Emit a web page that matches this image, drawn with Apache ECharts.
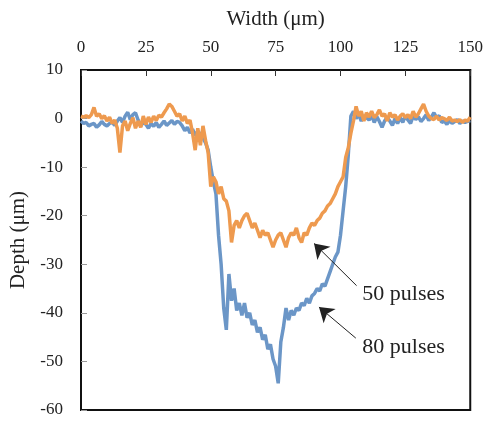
<!DOCTYPE html>
<html>
<head>
<meta charset="utf-8">
<script src="https://cdn.jsdelivr.net/npm/echarts@6/dist/echarts.min.js"></script>
<style>html,body{margin:0;padding:0;background:#fff;}#c{width:486px;height:423px;}</style>
</head>
<body>
<div id="c"></div>
<script>
// Width positions (µm), 1 µm step
var widths = [];
for (var i = 0; i <= 150; i++) widths.push(i);

// 80 pulses depth (µm)
var depth80 = [
 -0.5,-1.0,-0.8,-1.5,-1.2,-1.0,-1.8,-1.3,-0.6,-1.2,
 -1.5,-1.0,-0.8,-1.4,-0.5,0.2,-0.8,0.5,1.3,-0.2,
 0.8,1.2,-0.3,-1.5,-0.8,-1.2,-2.0,-1.0,-1.6,-0.8,
 -1.8,-1.2,-0.5,-1.4,-0.9,-0.4,-1.2,-0.6,-0.8,-1.5,
 -2.5,-1.8,-3.0,-2.2,-3.5,-2.6,-3.2,-4.0,-5.0,-6.5,
 -10.0,-13.0,-15.5,-24.0,-30.0,-39.0,-43.5,-32.0,-37.5,-35.0,
 -39.5,-38.0,-40.5,-38.0,-41.0,-40.0,-42.5,-41.5,-44.0,-43.0,
 -45.5,-44.5,-47.5,-46.5,-49.5,-51.0,-54.5,-46.0,-43.0,-39.0,
 -41.5,-39.5,-40.5,-39.0,-39.5,-38.0,-38.5,-37.0,-38.0,-36.5,
 -36.0,-35.0,-35.5,-34.0,-34.5,-33.0,-31.5,-30.0,-28.5,-27.5,
 -24.0,-19.0,-14.0,-7.5,0.5,1.5,0.0,0.8,-0.5,0.5,
 0.2,-0.3,0.6,-0.8,0.4,-0.6,-1.8,-0.5,0.3,-0.5,
 -1.4,0.0,-1.0,0.2,-0.8,0.6,-0.3,-1.0,0.5,-0.2,
 0.4,-0.6,0.0,0.8,-0.4,0.3,1.2,0.2,0.6,-0.8,
 -0.5,-1.2,-0.4,-1.0,-0.6,-0.2,-1.0,-0.5,-0.8,-0.6,
 -0.4
];

// 50 pulses depth (µm)
var depth50 = [
 0.5,0.3,0.6,0.2,0.8,2.3,0.5,1.0,0.0,0.6,
 -0.5,0.3,-1.0,-0.3,-2.0,-7.0,-1.5,-0.5,-2.5,-1.0,
 0.2,-2.0,-0.5,-1.8,0.5,-1.2,0.3,-0.8,0.5,-0.4,
 0.7,0.3,1.2,2.0,3.0,2.5,1.5,0.5,1.0,-0.5,
 0.5,-1.0,-0.3,-3.0,-6.5,-2.0,-5.5,-1.5,-4.5,-7.0,
 -14.0,-12.0,-13.0,-15.5,-14.0,-16.5,-17.0,-19.0,-25.5,-22.0,
 -21.0,-22.5,-21.0,-20.0,-19.5,-21.0,-22.5,-21.5,-23.0,-24.5,
 -23.0,-24.0,-23.5,-25.0,-26.5,-25.0,-24.0,-23.5,-25.0,-26.5,
 -24.5,-23.5,-24.0,-22.5,-24.5,-25.5,-23.5,-24.0,-22.5,-21.5,
 -22.0,-21.0,-20.5,-19.5,-19.0,-18.0,-17.5,-16.5,-15.5,-14.0,
 -13.0,-12.0,-8.0,-6.0,-3.0,-0.5,2.5,0.5,1.5,-0.5,
 1.2,0.3,1.5,0.2,0.8,1.8,0.5,1.0,-0.5,1.2,
 0.3,0.8,-0.3,0.5,1.0,0.2,0.8,0.0,1.5,0.3,
 1.0,2.0,3.0,1.5,0.5,0.0,-0.2,0.5,-0.3,0.2,
 0.0,-0.4,0.3,-0.5,-0.3,-0.6,-0.2,-0.8,-0.3,-0.5,
 0.3
];

var xTicks = [0, 25, 50, 75, 100, 125, 150];
var yTicks = [10, 0, -10, -20, -30, -40, -50, -60];

// annotation anchors in data units [tail, tip] and labels
var arrow50 = [[106.2, -34.4], [89.8, -25.7]];
var arrow80 = [[105.9, -45.2], [91.7, -38.8]];
var label50 = { text: '50 pulses', at: [124.3, -36.2] };
var label80 = { text: '80 pulses', at: [124.3, -47.0] };

function pairs(ys) { return widths.map(function (x, i) { return [x, ys[i]]; }); }

var serif = '"Liberation Serif", "Times New Roman", serif';
var chart = echarts.init(document.getElementById('c'), null, { renderer: 'canvas' });
chart.setOption({
  animation: false,
  backgroundColor: '#fff',
  grid: { left: 81, right: 14, top: 70, bottom: 13, show: true, borderColor: '#111', borderWidth: 2, backgroundColor: 'transparent' },
  xAxis: {
    type: 'value', position: 'top', min: xTicks[0], max: xTicks[xTicks.length - 1], interval: 25,
    name: 'Width (μm)', nameLocation: 'middle', nameGap: 40,
    nameTextStyle: { fontFamily: serif, fontSize: 21, color: '#222' },
    axisLine: { show: true, onZero: false, lineStyle: { color: '#111', width: 2 } },
    axisTick: { show: true, inside: true, length: 6, lineStyle: { color: '#333', width: 1 } },
    axisLabel: { fontFamily: serif, fontSize: 17, color: '#222', margin: 14 },
    splitLine: { show: false }
  },
  yAxis: {
    type: 'value', min: yTicks[yTicks.length - 1], max: yTicks[0], interval: 10,
    name: 'Depth (μm)', nameLocation: 'middle', nameGap: 52,
    nameTextStyle: { fontFamily: serif, fontSize: 21, color: '#222' },
    axisLine: { show: true, onZero: false, lineStyle: { color: '#111', width: 2 } },
    axisTick: { show: true, inside: true, length: 6, lineStyle: { color: '#999', width: 1 } },
    axisLabel: { fontFamily: serif, fontSize: 17, color: '#222', margin: 18 },
    splitLine: { show: false }
  },
  series: [
    {
      name: '80 pulses', type: 'line', data: pairs(depth80), showSymbol: false, symbol: 'none',
      lineStyle: { color: '#6b96c7', width: 3.5 }, z: 2
    },
    {
      name: '50 pulses', type: 'line', data: pairs(depth50), showSymbol: false, symbol: 'none',
      lineStyle: { color: '#ee9a4f', width: 3.5 }, z: 3,
      markLine: {
        silent: true, symbol: ['none', 'arrow'], symbolSize: 14,
        itemStyle: { color: '#111' },
        lineStyle: { color: '#222', width: 1, type: 'solid' }, label: { show: false },
        data: [
          [{ coord: arrow50[0] }, { coord: arrow50[1] }],
          [{ coord: arrow80[0] }, { coord: arrow80[1] }]
        ]
      },
      markPoint: {
        silent: true, symbol: 'circle', symbolSize: 1, itemStyle: { color: 'rgba(0,0,0,0)' },
        label: { show: true, position: 'inside', fontFamily: serif, fontSize: 22, color: '#222' },
        data: [
          { coord: label50.at, label: { formatter: label50.text } },
          { coord: label80.at, label: { formatter: label80.text } }
        ]
      }
    }
  ]
});
</script>
</body>
</html>
